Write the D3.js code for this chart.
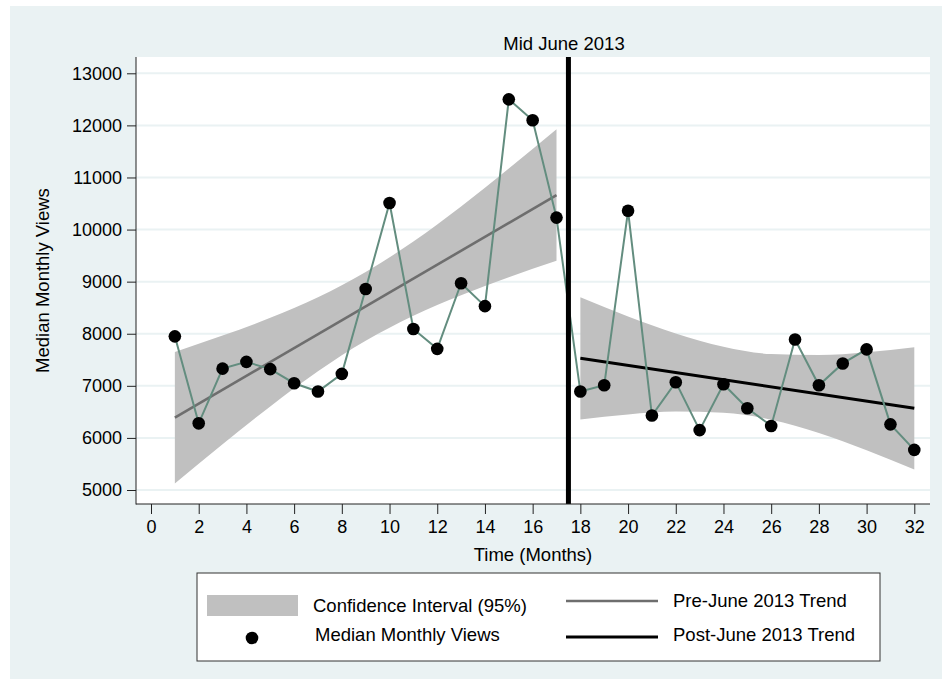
<!DOCTYPE html>
<html>
<head>
<meta charset="utf-8">
<script src="https://cdn.jsdelivr.net/npm/d3@7"></script>
<style>
	body { margin:0; padding:0; background:#ffffff; }
	svg { display:block; font-family:"Liberation Sans", Arial, sans-serif; }
</style>
</head>
<body>
<svg id="chart" width="942" height="688"></svg>
<script>
"use strict";

// months and median monthly views
var months = [1,2,3,4,5,6,7,8,9,10,11,12,13,14,15,16,17,18,19,20,21,22,23,24,25,26,27,28,29,30,31,32];
var views = [7950,6280,7330,7460,7320,7050,6890,7230,8860,10510,8090,7710,8970,8530,12500,12100,10230,
	6890,7010,10360,6430,7070,6150,7030,6570,6230,7890,7010,7430,7700,6260,5770];

// confidence bands, pre and post
var preBandX = [1,3,5,7,9,11,13,15,17];
var preUpper = [7650,7965,8305,8700,9185,9770,10445,11170,11925];
var preLower = [5125,5880,6605,7280,7865,8345,8740,9085,9400];
var postBandX = [18,20,22,24,26,28,30,32];
var postUpper = [8700,8330,8005,7750,7610,7590,7645,7740];
var postLower = [6355,6450,6505,6485,6350,6095,5765,5395];

// trend lines (start, end)
var preTrendX = [1,17];
var preTrendY = [6390,10660];
var postTrendX = [18,32];
var postTrendY = [7530,6570];

var breakMonth = 17.5;
var xTicks = d3.range(0,33,2);
var yTicks = [5000,6000,7000,8000,9000,10000,11000,12000,13000];

var svg = d3.select('#chart');
var plot = {left:136, right:930, top:57, bottom:504};

var x = d3.scaleLinear().domain([0,32]).range([151,914.3]);
var y = d3.scaleLinear().domain([5000,13000]).range([490,73.3]);

// outer background
svg.append('rect')
	.attr('x',10).attr('y',6)
	.attr('width',932).attr('height',673)
	.attr('fill','#eaf2f3');

svg.append('rect')
	.attr('x',plot.left).attr('y',plot.top)
	.attr('width',plot.right-plot.left).attr('height',plot.bottom-plot.top)
	.attr('fill','#ffffff');

// gridlines
svg.append('g').selectAll('line').data(yTicks).enter().append('line')
	.attr('x1',plot.left).attr('x2',plot.right)
	.attr('y1',function(d){ return y(d); })
	.attr('y2',function(d){ return y(d); })
	.attr('stroke','#eaf2f3')
	.attr('stroke-width',2);

function band(xs, up, lo) {
	var pts = xs.map(function(v,i){ return {x:v, u:up[i], l:lo[i]}; });
	var area = d3.area()
		.curve(d3.curveMonotoneX)
		.x(function(d){ return x(d.x); })
		.y0(function(d){ return y(d.l); })
		.y1(function(d){ return y(d.u); });
	svg.append('path').datum(pts)
		.attr('d',area)
		.attr('fill','#c0c0c0');
}
band(preBandX, preUpper, preLower);
band(postBandX, postUpper, postLower);

function trend(xs, ys, color, w) {
	var line = d3.line()
		.x(function(d){ return x(d[0]); })
		.y(function(d){ return y(d[1]); });
	svg.append('path').datum(d3.zip(xs, ys))
		.attr('d',line)
		.attr('fill','none')
		.attr('stroke',color)
		.attr('stroke-width',w);
}
trend(preTrendX, preTrendY, '#6e6e6e', 2.6);
trend(postTrendX, postTrendY, '#000000', 3);

// data line + dots
var dataLine = d3.line()
	.x(function(d){ return x(d[0]); })
	.y(function(d){ return y(d[1]); });
svg.append('path').datum(d3.zip(months, views))
	.attr('d',dataLine)
	.attr('fill','none')
	.attr('stroke','#638d7f')
	.attr('stroke-width',2);

svg.append('g').selectAll('circle').data(d3.zip(months, views)).enter().append('circle')
	.attr('cx',function(d){ return x(d[0]); })
	.attr('cy',function(d){ return y(d[1]); })
	.attr('r',6.3)
	.attr('fill','#000000');

// the June 2013 break
svg.append('line')
	.attr('x1',x(breakMonth)).attr('x2',x(breakMonth))
	.attr('y1',plot.top).attr('y2',plot.bottom)
	.attr('stroke','#000000')
	.attr('stroke-width',5);
svg.append('text')
	.attr('x',564).attr('y',49.5)
	.attr('text-anchor','middle')
	.attr('font-size',18.5)
	.text('Mid June 2013');

// axes
var yAxis = d3.axisLeft(y).tickValues(yTicks).tickFormat(d3.format('d')).tickSize(9).tickPadding(5).tickSizeOuter(0);
var gy = svg.append('g').attr('transform','translate('+plot.left+',0)').call(yAxis);
gy.select('.domain').remove();
gy.append('line').attr('x1',0).attr('x2',0).attr('y1',plot.top).attr('y2',plot.bottom+0.5)
	.attr('stroke','#222');

var xAxis = d3.axisBottom(x).tickValues(xTicks).tickSize(10).tickPadding(6).tickSizeOuter(0);
var gx = svg.append('g').attr('transform','translate(0,'+plot.bottom+')').call(xAxis);
gx.select('.domain').remove();
gx.append('line').attr('x1',plot.left).attr('x2',plot.right).attr('y1',0).attr('y2',0)
	.attr('stroke','#222');

svg.selectAll('.tick line').attr('stroke','#222');
svg.selectAll('.tick text')
	.attr('font-size',18)
	.attr('font-family','"Liberation Sans", Arial, sans-serif')
	.attr('fill','#000');

svg.append('text')
	.attr('x',(plot.left+plot.right)/2).attr('y',561)
	.attr('text-anchor','middle')
	.attr('font-size',18.5)
	.text('Time (Months)');
svg.append('text')
	.attr('transform','translate(49,'+((plot.top+plot.bottom)/2)+') rotate(-90)')
	.attr('text-anchor','middle')
	.attr('font-size',18.5)
	.text('Median Monthly Views');

// legend
var lg = svg.append('g');
lg.append('rect')
	.attr('x',197).attr('y',573)
	.attr('width',683).attr('height',88)
	.attr('fill','#ffffff')
	.attr('stroke','#333')
	.attr('stroke-width',1);
lg.append('rect').attr('x',207).attr('y',595).attr('width',91).attr('height',21).attr('fill','#c0c0c0');
lg.append('circle').attr('cx',252).attr('cy',638).attr('r',6.3).attr('fill','#000');
lg.append('line').attr('x1',566).attr('x2',658).attr('y1',601).attr('y2',601)
	.attr('stroke','#6e6e6e').attr('stroke-width',2.6);
lg.append('line').attr('x1',566).attr('x2',658).attr('y1',637).attr('y2',637)
	.attr('stroke','#000').attr('stroke-width',3);

var legendText = [
	['Confidence Interval (95%)', 313, 612],
	['Median Monthly Views', 315, 641],
	['Pre-June 2013 Trend', 673, 607],
	['Post-June 2013 Trend', 673, 641]
];
lg.selectAll('text.lbl').data(legendText).enter().append('text')
	.attr('class','lbl')
	.attr('x',function(d){ return d[1]; })
	.attr('y',function(d){ return d[2]; })
	.attr('font-size',18.5)
	.text(function(d){ return d[0]; });
</script>
</body>
</html>
